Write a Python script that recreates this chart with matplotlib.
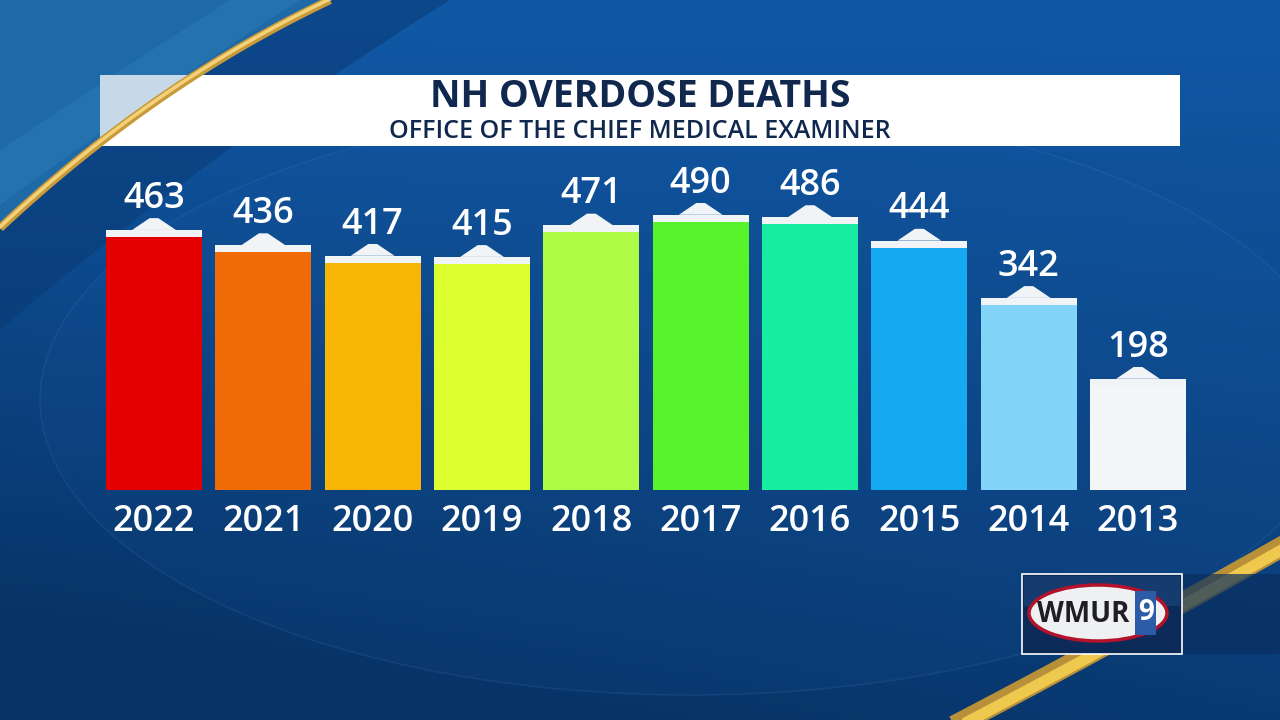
import numpy as np
import matplotlib
matplotlib.use("Agg")
import matplotlib.pyplot as plt
from matplotlib.patches import Rectangle, Polygon, Ellipse

# data
years = ["2022", "2021", "2020", "2019", "2018", "2017", "2016", "2015", "2014", "2013"]
deaths = [463, 436, 417, 415, 471, 490, 486, 444, 342, 198]
bar_colors = ["#e40000", "#f06a06", "#f8b506", "#ddff30", "#aefb46",
              "#57f42b", "#16eda0", "#14a9f0", "#82d4f8", "#f4f5f6"]
title = "NH OVERDOSE DEATHS"
subtitle = "OFFICE OF THE CHIEF MEDICAL EXAMINER"

W, H = 1280, 720
fig = plt.figure(figsize=(12.8, 7.2), dpi=100)

# ---- background (pixel coordinates) ----
bg = fig.add_axes([0, 0, 1, 1])
bg.set_xlim(0, W)
bg.set_ylim(H, 0)
bg.axis("off")

yy, xx = np.mgrid[0:H:4, 0:W:4]
t = np.clip(0.85 * yy / H + 0.35 * (1 - xx / W) * yy / H - 0.05, 0, 1)
top = np.array([0x10, 0x57, 0xa4]) / 255
bot = np.array([0x07, 0x33, 0x66]) / 255
img = top[None, None, :] * (1 - t[..., None]) + bot[None, None, :] * t[..., None]
bg.imshow(img, extent=[0, W, H, 0], aspect="auto", zorder=0)

# faint big ring
bg.add_patch(Ellipse((690, 400), 1300, 590, fill=False, ec="#5d8fd0",
                     lw=1.2, alpha=0.13, zorder=1))
bg.add_patch(Ellipse((690, 400), 1300, 590, fc="#2a6ab8", ec="none",
                     alpha=0.07, zorder=1))


def qbez(p0, p1, p2, n=80):
    s = np.linspace(0, 1, n)[:, None]
    return (1 - s) ** 2 * np.array(p0) + 2 * (1 - s) * s * np.array(p1) + s ** 2 * np.array(p2)


# dark band under the top-left swoosh
gold = qbez((0, 228), (155, 83), (330, 0))
inner = qbez((0, 330), (210, 150), (450, 0))
band = np.vstack([gold, inner[::-1]])
bg.add_patch(Polygon(band, closed=True, fc="#0a3a74", ec="none", alpha=0.55, zorder=1))

# top-left corner above the gold swoosh
corner = np.vstack([gold, [[0, 0]]])
bg.add_patch(Polygon(corner, closed=True, fc="#1f69a6", ec="none", zorder=1))
streak = np.vstack([qbez((0, 150), (120, 70), (230, 0)), qbez((0, 205), (150, 95), (300, 0))[::-1]])
bg.add_patch(Polygon(streak, closed=True, fc="#2f86c0", ec="none", alpha=0.5, zorder=1))

# title box (slightly faded where it runs under the swoosh)
bg.add_patch(Rectangle((100, 75), 1080, 71, fc="white", ec="none", zorder=2))
bg.add_patch(Polygon(corner, closed=True, fc="#1f69a6", ec="none", alpha=0.25, zorder=3))
bg.plot(gold[:, 0], gold[:, 1], color="#c99a3a", lw=6, solid_capstyle="butt", zorder=4)
bg.plot(gold[:, 0], gold[:, 1] - 1, color="#f3d27a", lw=2.5, zorder=4)

bg.text(640, 97, title, color="#10284e", fontsize=27, fontweight="bold",
        family="Open Sans", ha="center", va="center", zorder=5)
bg.text(640, 131, subtitle, color="#10284e", fontsize=18, fontweight="semibold",
        family="Open Sans", ha="center", va="center", zorder=5)

# bottom-right gold stripe
stripe = qbez((950, 728), (1100, 650), (1285, 545))
bg.plot(stripe[:, 0], stripe[:, 1], color="#b8903a", lw=15, zorder=2)
bg.plot(stripe[:, 0], stripe[:, 1] + 3, color="#efc94e", lw=8, zorder=2)

# logo block
bg.add_patch(Rectangle((1022, 574), 258, 80, fc="#0a2f60", ec="none", alpha=0.7, zorder=3))
bg.add_patch(Rectangle((1022, 574), 160, 80, fc="#0b2a58", ec="white", lw=1.2, zorder=4))
bg.add_patch(Rectangle((1024, 576), 156, 30, fc="#2a5c9c", ec="none", alpha=0.35, zorder=4))
bg.add_patch(Ellipse((1098, 613), 138, 56, fc="#eef0f2", ec="#b3132a", lw=2.5, zorder=5))
bg.add_patch(Rectangle((1135, 591), 21, 44, fc="#2c5ca8", ec="none", zorder=6))
bg.text(1083, 614, "WMUR", color="#1e1e24", fontsize=20, fontweight="bold",
        family="Open Sans", ha="center", va="center", zorder=7)
bg.text(1146, 612, "9", color="white", fontsize=20, fontweight="bold",
        family="Open Sans", ha="center", va="center", zorder=7)

# ---- bar chart ----
ax = fig.add_axes([0.0776, 1 - 490 / H, 0.8542, 337 / H])
ax.set_xlim(-0.5, len(years) - 0.5)
ax.set_ylim(0, 600)
ax.patch.set_alpha(0)
for s in ax.spines.values():
    s.set_visible(False)

x = np.arange(len(years))
bw = 0.88
ax.bar(x, deaths, width=bw, color=bar_colors, zorder=2)
cap = 12.5
ax.bar(x, [cap] * len(deaths), bottom=np.array(deaths) - cap, width=bw,
       color="#f1f4f7", zorder=3)
for xi, v in zip(x, deaths):
    ax.add_patch(Polygon([[xi - 0.2, v], [xi - 0.04, v + 21], [xi + 0.04, v + 21],
                          [xi + 0.2, v]], closed=True, fc="#f1f4f7", ec="none",
                         zorder=3))
    ax.annotate(str(v), (xi, v), xytext=(0, 16), textcoords="offset points",
                ha="center", va="baseline", color="white", fontsize=26,
                fontweight="semibold", family="Open Sans", zorder=4)

ax.set_yticks([])
ax.set_xticks(x)
ax.set_xticklabels(years, color="white", fontsize=26, fontweight="semibold",
                   family="Open Sans")
ax.tick_params(axis="x", length=0, pad=10)

fig.savefig("out.png", dpi=100)
